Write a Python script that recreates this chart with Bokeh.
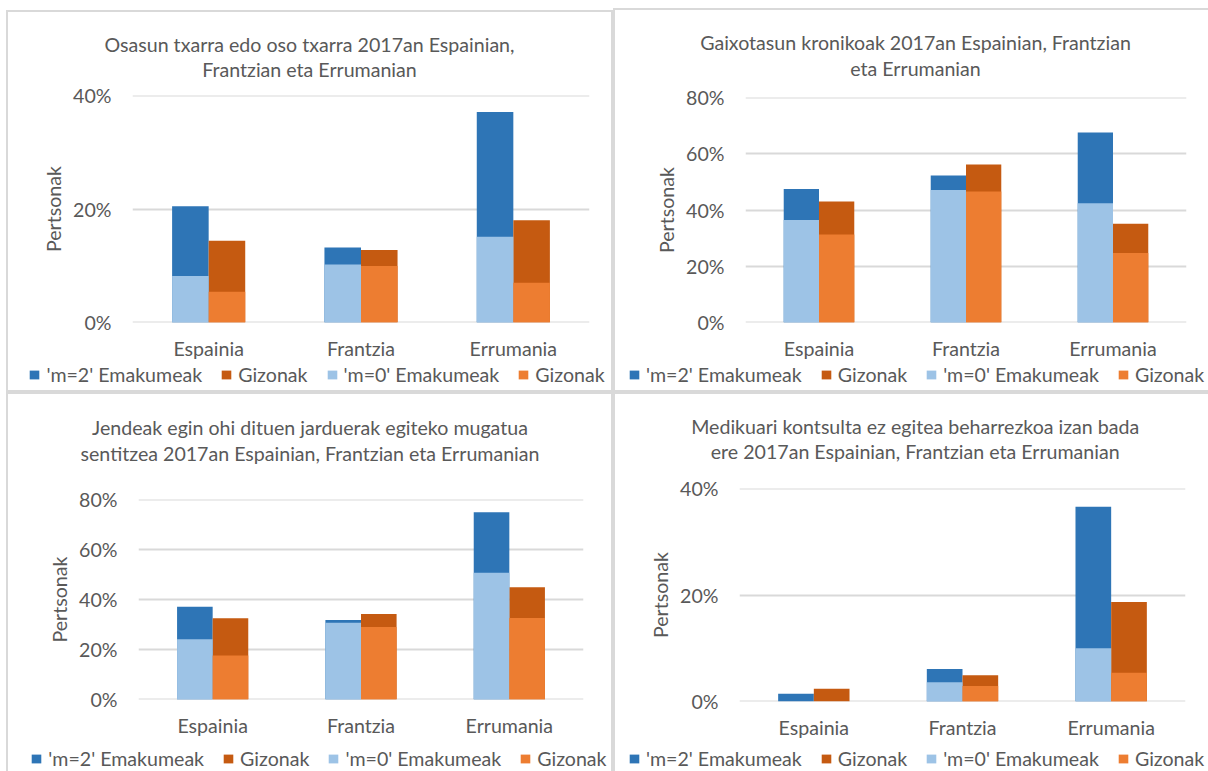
from bokeh.plotting import figure
from bokeh.models import (FactorRange, Range1d, FixedTicker, NumeralTickFormatter,
                          Label, Legend, LegendItem, ColumnDataSource, Plot)
from bokeh.core.properties import value
from bokeh.transform import dodge
from bokeh.layouts import column, row
from bokeh.embed import file_html
from bokeh.resources import INLINE

# ---------------- data ----------------
countries = ["Espainia", "Frantzia", "Errumania"]
legend_labels = ["'m=2' Emakumeak", "Gizonak", "'m=0' Emakumeak", "Gizonak"]
y_label = "Pertsonak"

# Panel 1
p1_title = ["Osasun txarra edo oso txarra 2017an Espainian,", "Frantzian eta Errumanian"]
p1_m2_women = [0.205, 0.132, 0.371]
p1_m2_men = [0.144, 0.1275, 0.180]
p1_m0_women = [0.082, 0.102, 0.151]
p1_m0_men = [0.054, 0.0995, 0.070]
p1_ticks = [0.0, 0.2, 0.4]

# Panel 2
p2_title = ["Gaixotasun kronikoak 2017an Espainian, Frantzian", "eta Errumanian"]
p2_m2_women = [0.475, 0.523, 0.676]
p2_m2_men = [0.430, 0.562, 0.351]
p2_m0_women = [0.364, 0.471, 0.424]
p2_m0_men = [0.313, 0.466, 0.247]
p2_ticks = [0.0, 0.2, 0.4, 0.6, 0.8]

# Panel 3
p3_title = ["Jendeak egin ohi dituen jarduerak egiteko mugatua",
            "sentitzea 2017an Espainian, Frantzian eta Errumanian"]
p3_m2_women = [0.371, 0.318, 0.749]
p3_m2_men = [0.325, 0.342, 0.449]
p3_m0_women = [0.241, 0.307, 0.507]
p3_m0_men = [0.176, 0.290, 0.326]
p3_ticks = [0.0, 0.2, 0.4, 0.6, 0.8]

# Panel 4
p4_title = ["Medikuari kontsulta ez egitea beharrezkoa izan bada",
            "ere 2017an Espainian, Frantzian eta Errumanian"]
p4_m2_women = [0.0144, 0.061, 0.366]
p4_m2_men = [0.024, 0.049, 0.187]
p4_m0_women = [0.0, 0.036, 0.100]
p4_m0_men = [0.0, 0.029, 0.054]
p4_ticks = [0.0, 0.2, 0.4]

# ---------------- style ----------------
FONT = "Lato"
TXT = "#595959"
FS = "19.6px"
COLORS = ["#2E75B6", "#C55A11", "#9DC3E6", "#ED7D31"]
LEG_H = 30
GRID = "#D9D9D9"
NOALIGN = {"frame_align": False} if "frame_align" in Plot.properties() else {}
TRANSPARENT = dict(border_fill_alpha=0, background_fill_alpha=0)


def strip_fig(W, H, xr, yr):
    f = figure(frame_width=W, frame_height=H, x_range=xr, y_range=yr,
               x_axis_type=None, y_axis_type=None, title_location=None,
               output_backend="svg", toolbar_location=None, min_border=0,
               **TRANSPARENT, **NOALIGN)
    f.outline_line_color = None
    return f


def panel_border(b):
    # b = (left_inset, top_inset, draw_right, draw_bottom); 2px light-grey lines
    l, t, rgt, btm = b
    sh = []
    if l > 0:
        sh.append(f"inset {l}px 0 0 #ffffff")
    if t > 0:
        sh.append(f"inset 0 {t}px 0 #ffffff")
    sh.append(f"inset {l + 2}px 0 0 {GRID}")
    sh.append(f"inset 0 {t + 2}px 0 {GRID}")
    if rgt:
        sh.append(f"inset -2px 0 0 {GRID}")
    if btm:
        sh.append(f"inset 0 -2px 0 {GRID}")
    return {"box-shadow": ", ".join(sh), "background-color": "#ffffff"}


def make_panel(title, m2w, m2m, m0w, m0m, ticks, geo):
    ox, oy = geo["origin"]
    W, H = geo["size"]
    fl, fr, ft, fb = geo["frame"]  # frame edges in page coords
    TH = geo["title_h"]
    CH = H - TH - LEG_H
    top = int(round(ft - oy - TH)); fh = int(round(fb - ft)); bottom = CH - top - fh
    left = int(round(fl - ox)); fw = int(round(fr - fl)); right = W - left - fw

    src = ColumnDataSource(dict(country=countries, m2w=m2w, m2m=m2m, m0w=m0w, m0m=m0m))

    # ---- title strip ----
    t = strip_fig(W, TH, Range1d(0, W), Range1d(TH, 0))
    for text, (bx, by) in zip(title, geo["title_pos"]):
        t.add_layout(Label(x=bx - ox, y=by - oy - 7.6, text=text, text_align="center",
                           text_baseline="middle", text_font=FONT,
                           text_font_size=FS, text_color=TXT))

    # ---- chart ----
    eps = ticks[-1] * 0.0004
    p = figure(width=W, height=CH, x_range=FactorRange(*countries),
               y_range=Range1d(ticks[0] - eps, ticks[-1] + eps),
               output_backend="svg", toolbar_location=None, title_location=None,
               min_border_left=left, min_border_right=right,
               min_border_top=top, min_border_bottom=bottom, **TRANSPARENT, **NOALIGN)
    p.outline_line_color = None

    xl = dodge("country", -0.12, range=p.x_range)
    xr = dodge("country", 0.12, range=p.x_range)
    p.vbar(x=xl, top="m2w", width=0.24, source=src, fill_color=COLORS[0], line_color=None)
    p.vbar(x=xr, top="m2m", width=0.24, source=src, fill_color=COLORS[1], line_color=None)
    p.vbar(x=xl, top="m0w", width=0.24, source=src, fill_color=COLORS[2], line_color=None)
    p.vbar(x=xr, top="m0m", width=0.24, source=src, fill_color=COLORS[3], line_color=None)

    p.yaxis.ticker = FixedTicker(ticks=ticks)
    p.yaxis.formatter = NumeralTickFormatter(format="0%")
    for ax in (p.xaxis, p.yaxis):
        ax.axis_line_color = None
        ax.major_tick_line_color = None
        ax.minor_tick_line_color = None
        ax.major_tick_out = 0
        ax.major_tick_in = 0
        ax.major_label_text_font = FONT
        ax.major_label_text_font_size = FS
        ax.major_label_text_color = TXT
    p.yaxis.major_label_standoff = 21
    p.xaxis.major_label_standoff = 14
    p.yaxis.axis_label = y_label
    p.yaxis.axis_label_standoff = 5
    p.yaxis.axis_label_text_font = FONT
    p.yaxis.axis_label_text_font_size = FS
    p.yaxis.axis_label_text_font_style = "normal"
    p.yaxis.axis_label_text_color = TXT
    p.xgrid.grid_line_color = None
    p.ygrid.grid_line_color = GRID
    p.ygrid.grid_line_width = 2

    # ---- legend strip (legend keys reference hidden copies of the series) ----
    lg = strip_fig(W, LEG_H, FactorRange(*countries), Range1d(0, 1))
    rs = [lg.vbar(x="country", top=col, width=0.2, source=src, fill_color=c,
                  line_color=None, visible=False)
          for col, c in zip(["m2w", "m2m", "m0w", "m0m"], COLORS)]
    lx, lcy = geo["legend"]
    vy = (oy + H) - (lcy + 11.5)
    items = [LegendItem(label=value(l), renderers=[r]) for l, r in zip(legend_labels, rs)]
    leg = Legend(items=items, location=(lx - ox, vy), orientation="horizontal",
                 glyph_width=12, glyph_height=11, label_standoff=6, spacing=18,
                 padding=0, margin=0, border_line_color=None, background_fill_alpha=0,
                 inactive_fill_alpha=0,
                 label_text_font=FONT, label_text_font_size=FS, label_text_color=TXT,
                 label_height=16)
    lg.add_layout(leg)

    return column(t, p, lg, spacing=0, styles=panel_border(geo["border"]))


geo1 = dict(origin=(0, 0), size=(613, 392), frame=(131.7, 588.3, 95.0, 324.3), title_h=82,
            title_pos=[(309, 52), (309, 77)], legend=(28.4, 374.5), border=(6, 10, True, True))
geo2 = dict(origin=(613, 0), size=(595, 392), frame=(745.4, 1186.7, 96.7, 323.0), title_h=84,
            title_pos=[(915, 50), (915, 76)], legend=(628, 374), border=(0, 8, False, True))
geo3 = dict(origin=(0, 392), size=(613, 379), frame=(138.0, 583.2, 499.3, 699.7), title_h=94,
            title_pos=[(309.5, 435), (309.5, 460.7)], legend=(30.3, 758.3),
            border=(6, 0, True, False))
geo4 = dict(origin=(613, 392), size=(595, 379), frame=(738.9, 1185.1, 487.7, 701.0), title_h=83,
            title_pos=[(914.7, 433.3), (914.7, 459)], legend=(628, 758.3),
            border=(0, 0, False, False))

c1 = make_panel(p1_title, p1_m2_women, p1_m2_men, p1_m0_women, p1_m0_men, p1_ticks, geo1)
c2 = make_panel(p2_title, p2_m2_women, p2_m2_men, p2_m0_women, p2_m0_men, p2_ticks, geo2)
c3 = make_panel(p3_title, p3_m2_women, p3_m2_men, p3_m0_women, p3_m0_men, p3_ticks, geo3)
c4 = make_panel(p4_title, p4_m2_women, p4_m2_men, p4_m0_women, p4_m0_men, p4_ticks, geo4)

page = column(row(c1, c2, spacing=0), row(c3, c4, spacing=0), spacing=0)

open("out.html", "w").write(file_html(page, INLINE))
